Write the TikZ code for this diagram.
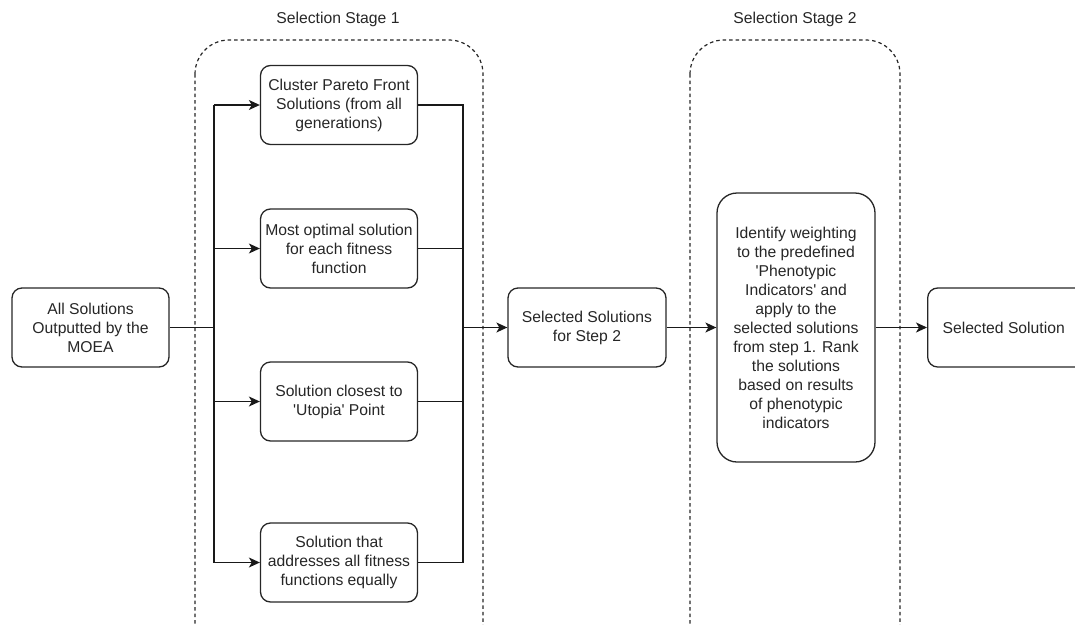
\documentclass[tikz,border=0pt]{standalone}
\usepackage{fontspec}
\setmainfont{Liberation Sans}
\usetikzlibrary{arrows.meta}
\newcommand{\sq}{\textquotesingle}
\begin{document}
\begin{tikzpicture}[x=1pt,y=-1pt,
  every node/.style={font=\fontsize{15.7}{19}\selectfont, text=black!85},
  box/.style={draw=black!85, line width=1.3pt, rounded corners=10pt, align=center, inner sep=2pt,
    minimum width=157pt, minimum height=79pt},
  bigbox/.style={box, rounded corners=20pt, minimum width=158pt, minimum height=269pt},
  stagebox/.style={draw=black!85, line width=1.2pt, dash pattern=on 3.5pt off 3pt, rounded corners=34pt},
  conn/.style={draw=black!90, line width=1.3pt},
  arr/.style={conn, -{Stealth[length=11pt,width=10pt,inset=3pt]}}
]
\useasboundingbox (0,0) rectangle (1075,624);
\clip (0,0) rectangle (1075,624);

% stage containers
\draw[stagebox] (195,40) rectangle (483,680);
\draw[stagebox] (690,40) rectangle (900,680);
\node (t1) at (338,19) {Selection Stage 1};
\node (t2) at (795,19) {Selection Stage 2};

% nodes
\node[box] (all) at (90.5,327.5) {All Solutions\\Outputted by the\\MOEA};
\node[box] (c1) at (339,105) {Cluster Pareto Front\\Solutions (from all\\generations)};
\node[box] (c2) at (339,248.5) {Most optimal solution\\for each fitness\\function};
\node[box] (c3) at (339,401.5) {Solution closest to\\\sq Utopia\sq{} Point};
\node[box] (c4) at (339,562.5) {Solution that\\addresses all fitness\\functions equally};
\node[box, minimum width=158pt] (sel) at (587,327.5) {Selected Solutions\\for Step 2};
\node[bigbox] (big) at (796,327.5) {Identify weighting\\to the predefined\\\sq Phenotypic\\Indicators\sq{} and\\apply to the\\selected solutions\\from step 1. Rank\\the solutions\\based on results\\of phenotypic\\indicators};
\node[box, minimum width=160pt, anchor=west] (fin) at (927,327.5) {Selected Solution\hspace*{8pt}};

% connectors
\coordinate (t) at (214,327.5);
\coordinate (r) at (463,327.5);
\draw[conn] (all.east) -- (t);
\draw[conn] (t |- c1.west) -- (t |- c4.west);
\draw[arr] (t |- c1.west) -- (c1.west);
\draw[arr] (t |- c2.west) -- (c2.west);
\draw[arr] (t |- c3.west) -- (c3.west);
\draw[arr] (t |- c4.west) -- (c4.west);
\draw[conn] (c1.east) -- (r |- c1.east) -- (r |- c4.east) -- (c4.east);
\draw[conn] (c2.east) -- (r |- c2.east);
\draw[conn] (c3.east) -- (r |- c3.east);
\draw[arr] (r) -- (sel.west);
\draw[arr] (sel.east) -- (big.west);
\draw[arr] (big.east) -- (fin.west);
\end{tikzpicture}
\end{document}
